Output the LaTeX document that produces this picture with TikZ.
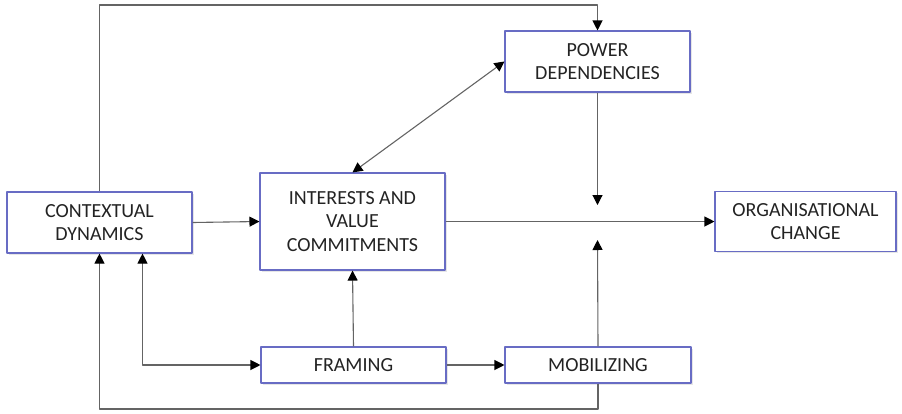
\documentclass[tikz,border=0pt]{standalone}
\usepackage{fontspec}
\setmainfont{Carlito}
\usepackage{xcolor}
\usepackage{tikz}
\usetikzlibrary{arrows.meta,shadows}

\definecolor{boxblue}{RGB}{104,108,196}
\definecolor{linegray}{RGB}{100,100,100}
\definecolor{textgray}{RGB}{35,35,35}

\begin{document}
\begin{tikzpicture}[x=1pt, y=-1pt, >={Triangle[length=10pt,width=10pt,color=black]}, line join=round,
  box/.style={draw=boxblue, line width=1.1pt, fill=white, align=center, inner sep=0pt,
    text=textgray, font=\fontsize{20}{23.5}\selectfont,
    drop shadow={opacity=0.2, shadow xshift=1.5pt, shadow yshift=-1.5pt}},
  flow/.style={draw=linegray, line width=1.1pt}]
  \useasboundingbox (0,0) rectangle (902,413);
  \node[box, minimum width=185pt, minimum height=61pt] (ctx) at (99.5,222.5) {CONTEXTUAL\\DYNAMICS};
  \node[box, minimum width=185pt, minimum height=97pt] (int) at (352.5,221.5) {INTERESTS AND\\VALUE\\COMMITMENTS};
  \node[box, minimum width=185pt, minimum height=61pt] (pow) at (597.5,61.5) {POWER\\DEPENDENCIES};
  \node[box, minimum width=181pt, minimum height=60pt] (org) at (805.5,221.5) {ORGANISATIONAL\\CHANGE};
  \node[box, minimum width=185pt, minimum height=36pt] (frm) at (353.5,365) {FRAMING};
  \node[box, minimum width=186pt, minimum height=36pt] (mob) at (598,365) {MOBILIZING};
  \coordinate (topline) at (0,5);
  \coordinate (botline) at (0,409);
  \coordinate (powin) at (597.5,205);
  \coordinate (mobin) at (597.5,240);
  \draw[flow,->] (ctx.north) -- (ctx.north |- topline) -| (pow.north);
  \draw[flow,->] (mob.south) -- (mob.south |- botline) -| (ctx.south);
  \draw[flow,<->] ([xshift=43pt]ctx.south) |- (frm.west);
  \draw[flow,->] (ctx.east) -- (int.west);
  \draw[flow,<->] (int.north) -- (pow.west);
  \draw[flow,->] (int.east) -- (org.west);
  \draw[flow,->] (pow.south) -- (powin);
  \draw[flow,->] (mob.north) -- (mobin);
  \draw[flow,->] (frm.north) -- (int.south);
  \draw[flow,->] (frm.east) -- (mob.west);
\end{tikzpicture}
\end{document}
